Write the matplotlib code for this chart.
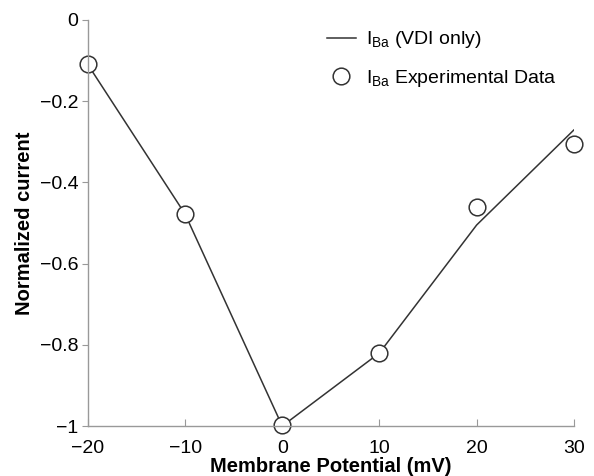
import matplotlib.pyplot as plt
import numpy as np

plt.rcParams['font.family'] = ['Liberation Sans', 'DejaVu Sans']
plt.rcParams['mathtext.fontset'] = 'custom'
plt.rcParams['mathtext.rm'] = 'Liberation Sans'
plt.rcParams['mathtext.it'] = 'Liberation Sans'

# Data
voltage = [-20, -10, 0, 10, 20, 30]
model_current = [-0.11, -0.478, -1.0, -0.82, -0.505, -0.271]
exp_current = [-0.108, -0.478, -0.998, -0.82, -0.46, -0.305]

fig = plt.figure(figsize=(5.94, 4.76), dpi=100)
ax = fig.add_axes([0.148, 0.105, 0.818, 0.853])

ax.plot(voltage, model_current, color='#333333', linewidth=1.1,
        label=r'$\mathregular{I_{Ba}}$ (VDI only)')
ax.plot(voltage, exp_current, linestyle='none', marker='o', markersize=12,
        markerfacecolor='white', markeredgecolor='#333333', markeredgewidth=1.1,
        label=r'$\mathregular{I_{Ba}}$ Experimental Data', clip_on=False)

ax.set_xlim(-20, 30)
ax.set_ylim(-1, 0)
ax.set_xticks([-20, -10, 0, 10, 20, 30])
ax.set_yticks([-1, -0.8, -0.6, -0.4, -0.2, 0])
ax.set_xticklabels(['\u221220', '\u221210', '0', '10', '20', '30'])
ax.set_yticklabels(['\u22121', '\u22120.8', '\u22120.6', '\u22120.4', '\u22120.2', '0'])

for side in ['top', 'right']:
    ax.spines[side].set_visible(False)
for side in ['left', 'bottom']:
    ax.spines[side].set_color('#999999')
    ax.spines[side].set_linewidth(1.0)

ax.tick_params(axis='x', direction='in', length=5, color='#999999',
               labelsize=14, pad=10)
ax.tick_params(axis='y', direction='out', length=4, color='#999999',
               labelsize=14, pad=3)

ax.set_xlabel('Membrane Potential (mV)', fontsize=14.5, fontweight='bold', labelpad=0)
ax.set_ylabel('Normalized current', fontsize=14.5, fontweight='bold', labelpad=4)

ax.legend(loc='upper right', bbox_to_anchor=(1.0, 1.02), frameon=False,
          fontsize=14, handlelength=1.5, handletextpad=0.5, labelspacing=0.9)

fig.savefig('out.png', dpi=100)
